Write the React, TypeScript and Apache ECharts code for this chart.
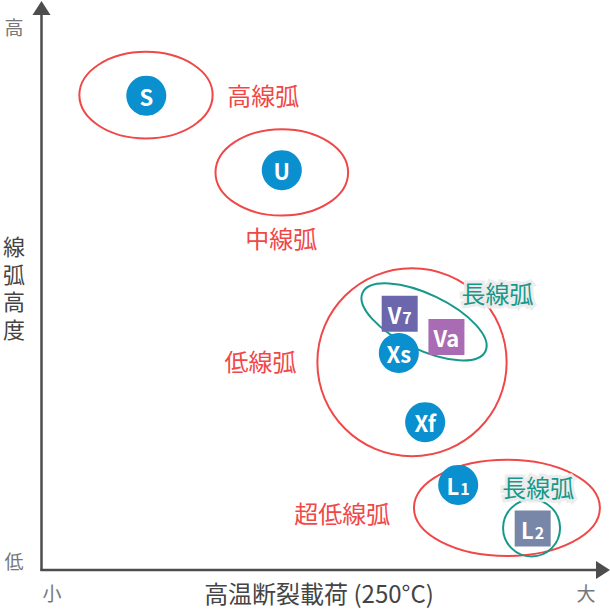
import React, { useEffect, useRef } from "react";
import * as echarts from "echarts";

// Marker positions on an abstract 0-100 scale (x: 高温断裂載荷, y: 線弧高度)
const circleNames = ["S", "U", "Xs", "Xf", "L1"];
const circleX = [18.8, 43.0, 63.9, 68.6, 74.5];
const circleY = [84.7, 71.4, 38.75, 26.4, 15.2];

const squareNames = ["V7", "Va", "L2"];
const squareX = [64.05, 72.4, 87.8];
const squareY = [45.75, 41.6, 7.4];
const squareColors = ["#6c66ac", "#a96bb3", "#7886a8"];

// Group ellipses: [cx, cy, rx, ry, rotationDeg]
const redGroups = [
  [18.75, 84.8, 11.9, 7.73, 0],
  [43.0, 71.0, 11.84, 7.71, 0],
  [66.25, 37.1, 16.9, 16.8, 0],
  [83.2, 11.1, 16.6, 8.6, 0],
];
const tealGroups = [
  [68.4, 44.3, 12.14, 4.95, -25.5],
  [87.6, 7.5, 5.09, 5.09, 0],
];

const redLabels = ["高線弧", "中線弧", "低線弧", "超低線弧"];
const redLabelX = [39.7, 42.9, 39.2, 53.8];
const redLabelY = [85.0, 59.4, 37.5, 10.2];

const tealLabels = ["長線弧", "長線弧"];
const tealLabelX = [81.5, 88.8];
const tealLabelY = [49.5, 15.0];

const xAxisTitle = "高温断裂載荷 (250°C)";
const yAxisTitle = ["線", "弧", "高", "度"];
const yHigh = "高";
const yLow = "低";
const xSmall = "小";
const xLarge = "大";

const RED = "#f04848";
const TEAL = "#16998b";
const BLUE = "#0a8fcf";
const FONT = "'Noto Sans CJK JP', 'Noto Sans', sans-serif";

const markerFormatter = (p: any) => {
  const m = /^([A-Za-z]+?)(\d)$/.exec(p.name);
  if (m) return `{b|${m[1]}}{s|${m[2]}}`;
  return `{b|${p.name}}`;
};

const markerRich = {
  b: { fontSize: 22, fontWeight: "bold", color: "#fff", fontFamily: FONT },
  s: { fontSize: 16, fontWeight: "bold", color: "#fff", fontFamily: FONT, padding: [7, 0, 0, 1] },
};

const ellipseRender = (color: string) => (params: any, api: any) => {
  const c = api.coord([api.value(0), api.value(1)]);
  const o = api.coord([0, 0]);
  const rx = Math.abs(api.coord([api.value(2), 0])[0] - o[0]);
  const ry = Math.abs(api.coord([0, api.value(3)])[1] - o[1]);
  return {
    type: "ellipse",
    x: c[0],
    y: c[1],
    rotation: (api.value(4) * Math.PI) / 180,
    shape: { cx: 0, cy: 0, rx, ry },
    style: { fill: "none", stroke: color, lineWidth: 2 },
    silent: true,
  };
};

const textRender = (color: string, halo: boolean) => (params: any, api: any) => {
  const c = api.coord([api.value(0), api.value(1)]);
  return {
    type: "text",
    x: c[0],
    y: c[1],
    style: {
      text: api.value(2),
      fill: color,
      fontSize: 24,
      fontFamily: FONT,
      align: "center",
      verticalAlign: "middle",
      stroke: halo ? "rgba(236,236,236,0.95)" : undefined,
      lineWidth: halo ? 6 : 0,
    },
  };
};

export default function App() {
  const ref = useRef<HTMLDivElement>(null);
  useEffect(() => {
    document.body.style.margin = "0";
    if (!ref.current) return;
    const chart = echarts.init(ref.current, undefined, { renderer: "svg" });
    const AX = "#4d4d4d";
    const small = (text: string, x: number, y: number) => ({
      type: "text",
      x,
      y,
      style: { text, fontSize: 19, fill: "#777", fontFamily: FONT, align: "center", verticalAlign: "middle" },
    });
    chart.setOption({
      animation: false,
      backgroundColor: "#fff",
      grid: { left: 41, right: 10, top: 10, bottom: 39 },
      xAxis: { type: "value", min: 0, max: 100, show: false },
      yAxis: { type: "value", min: 0, max: 100, show: false },
      graphic: [
        { type: "line", shape: { x1: 41.5, y1: 571, x2: 41.5, y2: 12 }, style: { stroke: AX, lineWidth: 2.5 }, z: 1 },
        { type: "polygon", shape: { points: [[41.5, 1], [32.5, 15], [50.5, 15]] }, style: { fill: AX }, z: 1 },
        { type: "line", shape: { x1: 40.5, y1: 570, x2: 598, y2: 570 }, style: { stroke: AX, lineWidth: 2.5 }, z: 1 },
        { type: "polygon", shape: { points: [[610, 570], [596, 561], [596, 579]] }, style: { fill: AX }, z: 1 },
        small(yHigh, 14, 26),
        small(yLow, 14, 560),
        small(xSmall, 52, 592),
        small(xLarge, 586, 592),
        { type: "text", x: 319, y: 592, style: { text: xAxisTitle, fontSize: 24, fill: "#444", fontFamily: FONT, align: "center", verticalAlign: "middle" } },
        ...yAxisTitle.map((ch, i) => ({
          type: "text",
          x: 14,
          y: 245 + i * 27.5,
          style: { text: ch, fontSize: 22, fill: "#444", fontFamily: FONT, align: "center", verticalAlign: "middle" },
        })),
      ],
      series: [
        {
          type: "custom",
          renderItem: ellipseRender(RED),
          data: redGroups,
          z: 2,
          silent: true,
        },
        {
          type: "custom",
          renderItem: ellipseRender(TEAL),
          data: tealGroups,
          z: 3,
          silent: true,
        },
        {
          type: "custom",
          renderItem: textRender(RED, false),
          data: redLabels.map((t, i) => [redLabelX[i], redLabelY[i], t]),
          dimensions: ["x", "y", { name: "t", type: "ordinal" }],
          z: 4,
          silent: true,
        },
        {
          type: "custom",
          renderItem: textRender(TEAL, true),
          data: tealLabels.map((t, i) => [tealLabelX[i], tealLabelY[i], t]),
          dimensions: ["x", "y", { name: "t", type: "ordinal" }],
          z: 4,
          silent: true,
        },
        {
          type: "scatter",
          symbol: "rect",
          symbolSize: 36,
          z: 5,
          data: squareNames.map((n, i) => ({
            name: n,
            value: [squareX[i], squareY[i]],
            itemStyle: { color: squareColors[i], opacity: 1 },
          })),
          itemStyle: { opacity: 1 },
          label: { show: true, position: "inside", formatter: markerFormatter, rich: markerRich },
        },
        {
          type: "scatter",
          symbol: "circle",
          symbolSize: 40,
          z: 6,
          itemStyle: { color: BLUE, opacity: 1 },
          data: circleNames.map((n, i) => ({ name: n, value: [circleX[i], circleY[i]] })),
          label: { show: true, position: "inside", formatter: markerFormatter, rich: markerRich },
        },
      ],
    });
    return () => chart.dispose();
  }, []);
  return <div ref={ref} style={{ width: 611, height: 609 }} />;
}
